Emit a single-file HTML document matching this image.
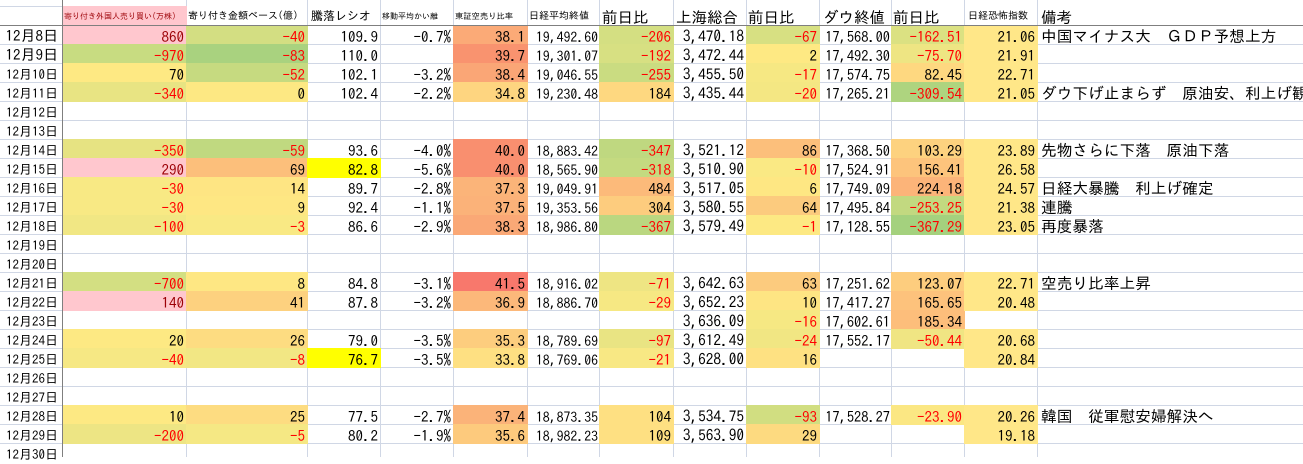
<!DOCTYPE html>
<html><head><meta charset="utf-8">
<style>
html,body{margin:0;padding:0;}
body{width:1303px;height:457px;overflow:hidden;background:#fff;position:relative;font-family:"IPAGothic","Noto Sans CJK JP",monospace;}
.hl{position:absolute;left:0;top:6px;width:1303px;height:451px;background:repeating-linear-gradient(to bottom,#d0d7e5 0,#d0d7e5 1px,transparent 1px,transparent 19px);}
.vl{position:absolute;top:0;width:1px;height:457px;background:#d0d7e5;}
.c{position:absolute;height:20px;line-height:19px;padding:2px 3px 0 0;box-sizing:border-box;text-align:right;white-space:nowrap;font-size:15px;color:#000;}
.n{color:#ff0000;}
.p{background:#ffc7ce;color:#9c0006;}
.h{position:absolute;top:6px;height:20px;line-height:19px;box-sizing:border-box;white-space:nowrap;text-align:left;padding-top:1px;color:#000;background:#fff;}
.hb{padding-top:2px;font-size:15.5px;}
.d{position:absolute;left:0;width:58px;height:19px;line-height:19px;text-align:right;white-space:nowrap;box-sizing:border-box;color:#000;}
.d1{font-size:15px;padding-top:1px;}
.d2{font-size:13px;padding-top:2px;}
.B{left:62px;width:125px;}
.C{left:186px;width:122px;}
.D{left:307px;width:74px;}
.E{left:380px;width:74px;}
.F{left:453px;width:75px;}
.G{left:527px;width:73px;font-size:13.8px;padding-top:3px;padding-right:2px;}
.H{left:599px;width:75px;}
.I{left:673px;width:74px;font-size:15.3px;}
.J{left:746px;width:74px;}
.K{left:819px;width:73px;font-size:14.4px;padding-right:2px;}
.L{left:891px;width:74px;}
.M{left:964px;width:74px;background:#ffe788;}
.N{left:1037px;width:266px;text-align:left;padding-left:4px;padding-right:0;font-size:15.7px;overflow:hidden;}
.r8{top:25px}.r9{top:44px}.r10{top:63px}.r11{top:82px}.r12{top:101px}.r13{top:120px}.r14{top:139px}.r15{top:158px}.r16{top:177px}.r17{top:196px}.r18{top:215px}.r19{top:234px}.r20{top:253px}.r21{top:272px}.r22{top:291px}.r23{top:310px}.r24{top:329px}.r25{top:348px}.r26{top:367px}.r27{top:386px}.r28{top:405px}.r29{top:424px}.r30{top:443px}
.fz{position:absolute;background:#7f7f7f;}
</style></head><body>
<div class="hl"></div>
<div class="vl" style="left:186px"></div>
<div class="vl" style="left:307px"></div>
<div class="vl" style="left:380px"></div>
<div class="vl" style="left:453px"></div>
<div class="vl" style="left:527px"></div>
<div class="vl" style="left:599px"></div>
<div class="vl" style="left:673px"></div>
<div class="vl" style="left:746px"></div>
<div class="vl" style="left:819px"></div>
<div class="vl" style="left:891px"></div>
<div class="vl" style="left:964px"></div>
<div class="vl" style="left:1037px"></div>

<!-- header -->
<div class="h" style="left:62px;width:125px;background:#ffc7ce;color:#9c0006;font-size:8px;padding-left:2px;padding-top:1px">寄り付き外国人売り買い(万株)</div>
<div class="h" style="left:187px;width:120px;font-size:10px;padding-left:1px">寄り付き金額ベース(億)</div>
<div class="h" style="left:308px;width:72px;font-size:12px;padding-left:3px">騰落レシオ</div>
<div class="h" style="left:381px;width:72px;font-size:8px;padding-left:1px">移動平均かい離</div>
<div class="h" style="left:454px;width:73px;font-size:8.3px;padding-left:1px">東証空売り比率</div>
<div class="h" style="left:528px;width:71px;font-size:10px;padding-left:1px">日経平均終値</div>
<div class="h hb" style="left:600px;width:73px;padding-left:2px">前日比</div>
<div class="h hb" style="left:674px;width:72px;padding-left:2px">上海総合</div>
<div class="h hb" style="left:747px;width:72px;padding-left:1px">前日比</div>
<div class="h hb" style="left:820px;width:71px;padding-left:3px">ダウ終値</div>
<div class="h hb" style="left:892px;width:72px;padding-left:1px">前日比</div>
<div class="h" style="left:965px;width:72px;font-size:10px;padding-left:3px">日経恐怖指数</div>
<div class="h hb" style="left:1038px;width:265px;padding-left:3px">備考</div>

<!-- dates -->
<div class="d d1 r8">12月8日</div>
<div class="d d1 r9">12月9日</div>
<div class="d d2 r10">12月10日</div>
<div class="d d2 r11">12月11日</div>
<div class="d d2 r12">12月12日</div>
<div class="d d2 r13">12月13日</div>
<div class="d d2 r14">12月14日</div>
<div class="d d2 r15">12月15日</div>
<div class="d d2 r16">12月16日</div>
<div class="d d2 r17">12月17日</div>
<div class="d d2 r18">12月18日</div>
<div class="d d2 r19">12月19日</div>
<div class="d d2 r20">12月20日</div>
<div class="d d2 r21">12月21日</div>
<div class="d d2 r22">12月22日</div>
<div class="d d2 r23">12月23日</div>
<div class="d d2 r24">12月24日</div>
<div class="d d2 r25">12月25日</div>
<div class="d d2 r26">12月26日</div>
<div class="d d2 r27">12月27日</div>
<div class="d d2 r28">12月28日</div>
<div class="d d2 r29">12月29日</div>
<div class="d d2 r30">12月30日</div>

<!-- B -->
<div class="c B r8 p">860</div>
<div class="c B r9 n" style="background:#c8dc81">-970</div>
<div class="c B r10" style="background:#fee983">70</div>
<div class="c B r11 n" style="background:#e8e483">-340</div>
<div class="c B r14 n" style="background:#e6e382">-350</div>
<div class="c B r15 p">290</div>
<div class="c B r16 n" style="background:#f8e984">-30</div>
<div class="c B r17 n" style="background:#f8e984">-30</div>
<div class="c B r18 n" style="background:#f1e784">-100</div>
<div class="c B r21 n" style="background:#d3df82">-700</div>
<div class="c B r22 p">140</div>
<div class="c B r24" style="background:#fde983">20</div>
<div class="c B r25 n" style="background:#f6e884">-40</div>
<div class="c B r28" style="background:#fde983">10</div>
<div class="c B r29 n" style="background:#ede584">-200</div>

<!-- C -->
<div class="c C r8 n" style="background:#d3de82">-40</div>
<div class="c C r9 n" style="background:#a9d27f">-83</div>
<div class="c C r10 n" style="background:#c6da80">-52</div>
<div class="c C r11" style="background:#fde883">0</div>
<div class="c C r14 n" style="background:#c0d980">-59</div>
<div class="c C r15" style="background:#fcbf7b">69</div>
<div class="c C r16" style="background:#fee583">14</div>
<div class="c C r17" style="background:#fee783">9</div>
<div class="c C r18 n" style="background:#f9e984">-3</div>
<div class="c C r21" style="background:#fee783">8</div>
<div class="c C r22" style="background:#fdd17f">41</div>
<div class="c C r24" style="background:#fddc81">26</div>
<div class="c C r25 n" style="background:#f2e784">-8</div>
<div class="c C r28" style="background:#fddc81">25</div>
<div class="c C r29 n" style="background:#f5e884">-5</div>

<!-- D -->
<div class="c D r8">109.9</div>
<div class="c D r9">110.0</div>
<div class="c D r10">102.1</div>
<div class="c D r11">102.4</div>
<div class="c D r14">93.6</div>
<div class="c D r15" style="background:#ffff00">82.8</div>
<div class="c D r16">89.7</div>
<div class="c D r17">92.4</div>
<div class="c D r18">86.6</div>
<div class="c D r21">84.8</div>
<div class="c D r22">87.8</div>
<div class="c D r24">79.0</div>
<div class="c D r25" style="background:#ffff00">76.7</div>
<div class="c D r28">77.5</div>
<div class="c D r29">80.2</div>

<!-- E -->
<div class="c E r8">-0.7%</div>
<div class="c E r10">-3.2%</div>
<div class="c E r11">-2.2%</div>
<div class="c E r14">-4.0%</div>
<div class="c E r15">-5.6%</div>
<div class="c E r16">-2.8%</div>
<div class="c E r17">-1.1%</div>
<div class="c E r18">-2.9%</div>
<div class="c E r21">-3.1%</div>
<div class="c E r22">-3.2%</div>
<div class="c E r24">-3.5%</div>
<div class="c E r25">-3.5%</div>
<div class="c E r28">-2.7%</div>
<div class="c E r29">-1.9%</div>

<!-- F -->
<div class="c F r8" style="background:#fbaa77">38.1</div>
<div class="c F r9" style="background:#f9936f">39.7</div>
<div class="c F r10" style="background:#faa676">38.4</div>
<div class="c F r11" style="background:#fed580">34.8</div>
<div class="c F r14" style="background:#f98f6f">40.0</div>
<div class="c F r15" style="background:#f98f6f">40.0</div>
<div class="c F r16" style="background:#fbb479">37.3</div>
<div class="c F r17" style="background:#fbb279">37.5</div>
<div class="c F r18" style="background:#faa876">38.3</div>
<div class="c F r21" style="background:#f8786c">41.5</div>
<div class="c F r22" style="background:#fcb87a">36.9</div>
<div class="c F r24" style="background:#fdcd7e">35.3</div>
<div class="c F r25" style="background:#fee082">33.8</div>
<div class="c F r28" style="background:#fbb379">37.4</div>
<div class="c F r29" style="background:#fdca7d">35.6</div>

<!-- G -->
<div class="c G r8">19,492.60</div>
<div class="c G r9">19,301.07</div>
<div class="c G r10">19,046.55</div>
<div class="c G r11">19,230.48</div>
<div class="c G r14">18,883.42</div>
<div class="c G r15">18,565.90</div>
<div class="c G r16">19,049.91</div>
<div class="c G r17">19,353.56</div>
<div class="c G r18">18,986.80</div>
<div class="c G r21">18,916.02</div>
<div class="c G r22">18,886.70</div>
<div class="c G r24">18,789.69</div>
<div class="c G r25">18,769.06</div>
<div class="c G r28">18,873.35</div>
<div class="c G r29">18,982.23</div>

<!-- H -->
<div class="c H r8 n" style="background:#d4df82">-206</div>
<div class="c H r9 n" style="background:#d7e082">-192</div>
<div class="c H r10 n" style="background:#cadc81">-255</div>
<div class="c H r11" style="background:#fed880">184</div>
<div class="c H r14 n" style="background:#bfd880">-347</div>
<div class="c H r15 n" style="background:#c4da80">-318</div>
<div class="c H r16" style="background:#fcba7a">484</div>
<div class="c H r17" style="background:#fdcc7e">304</div>
<div class="c H r18 n" style="background:#bad780">-367</div>
<div class="c H r21 n" style="background:#eee583">-71</div>
<div class="c H r22 n" style="background:#f6e883">-29</div>
<div class="c H r24 n" style="background:#e9e483">-97</div>
<div class="c H r25 n" style="background:#f8e884">-21</div>
<div class="c H r28" style="background:#fee082">104</div>
<div class="c H r29" style="background:#fee082">109</div>

<!-- I -->
<div class="c I r8">3,470.18</div>
<div class="c I r9">3,472.44</div>
<div class="c I r10">3,455.50</div>
<div class="c I r11">3,435.44</div>
<div class="c I r14">3,521.12</div>
<div class="c I r15">3,510.90</div>
<div class="c I r16">3,517.05</div>
<div class="c I r17">3,580.55</div>
<div class="c I r18">3,579.49</div>
<div class="c I r21">3,642.63</div>
<div class="c I r22">3,652.23</div>
<div class="c I r23">3,636.09</div>
<div class="c I r24">3,612.49</div>
<div class="c I r25">3,628.00</div>
<div class="c I r28">3,534.75</div>
<div class="c I r29">3,563.90</div>

<!-- J -->
<div class="c J r8 n" style="background:#d7e082">-67</div>
<div class="c J r9" style="background:#fee983">2</div>
<div class="c J r10 n" style="background:#f6e883">-17</div>
<div class="c J r11 n" style="background:#f4e783">-20</div>
<div class="c J r14" style="background:#fcbf7b">86</div>
<div class="c J r15 n" style="background:#fae984">-10</div>
<div class="c J r16" style="background:#fee783">6</div>
<div class="c J r17" style="background:#fccb7e">64</div>
<div class="c J r18 n" style="background:#fde983">-1</div>
<div class="c J r21" style="background:#fccb7e">63</div>
<div class="c J r22" style="background:#fee583">10</div>
<div class="c J r23 n" style="background:#f6e883">-16</div>
<div class="c J r24 n" style="background:#f1e683">-24</div>
<div class="c J r25" style="background:#fee182">16</div>
<div class="c J r28 n" style="background:#d1de81">-93</div>
<div class="c J r29" style="background:#fdda80">29</div>

<!-- K -->
<div class="c K r8">17,568.00</div>
<div class="c K r9">17,492.30</div>
<div class="c K r10">17,574.75</div>
<div class="c K r11">17,265.21</div>
<div class="c K r14">17,368.50</div>
<div class="c K r15">17,524.91</div>
<div class="c K r16">17,749.09</div>
<div class="c K r17">17,495.84</div>
<div class="c K r18">17,128.55</div>
<div class="c K r21">17,251.62</div>
<div class="c K r22">17,417.27</div>
<div class="c K r23">17,602.61</div>
<div class="c K r24">17,552.17</div>
<div class="c K r28">17,528.27</div>

<!-- L -->
<div class="c L r8 n" style="background:#dbe182">-162.51</div>
<div class="c L r9 n" style="background:#eee583">-75.70</div>
<div class="c L r10" style="background:#fed880">82.45</div>
<div class="c L r11 n" style="background:#aed47f">-309.54</div>
<div class="c L r14" style="background:#fdd27f">103.29</div>
<div class="c L r15" style="background:#fdc47c">156.41</div>
<div class="c L r16" style="background:#fcb479">224.18</div>
<div class="c L r17 n" style="background:#c2d980">-253.25</div>
<div class="c L r18 n" style="background:#a4d17e">-367.29</div>
<div class="c L r21" style="background:#fdcd7e">123.07</div>
<div class="c L r22" style="background:#fdc27c">165.65</div>
<div class="c L r23" style="background:#fdbe7b">185.34</div>
<div class="c L r24 n" style="background:#f0e583">-50.44</div>
<div class="c L r28 n" style="background:#fbe783">-23.90</div>

<!-- M -->
<div class="c M r8">21.06</div>
<div class="c M r9">21.91</div>
<div class="c M r10">22.71</div>
<div class="c M r11">21.05</div>
<div class="c M r14">23.89</div>
<div class="c M r15">26.58</div>
<div class="c M r16">24.57</div>
<div class="c M r17">21.38</div>
<div class="c M r18">23.05</div>
<div class="c M r21">22.71</div>
<div class="c M r22">20.48</div>
<div class="c M r24">20.68</div>
<div class="c M r25">20.84</div>
<div class="c M r28">20.26</div>
<div class="c M r29">19.18</div>

<!-- N -->
<div class="c N r8">中国マイナス大　ＧＤＰ予想上方</div>
<div class="c N r11">ダウ下げ止まらず　原油安、利上げ観測</div>
<div class="c N r14">先物さらに下落　原油下落</div>
<div class="c N r16">日経大暴騰　利上げ確定</div>
<div class="c N r17">連騰</div>
<div class="c N r18">再度暴落</div>
<div class="c N r21">空売り比率上昇</div>
<div class="c N r28">韓国　従軍慰安婦解決へ</div>

<!-- freeze pane lines -->
<div class="fz" style="left:62px;top:0;width:1px;height:457px"></div>
<div class="fz" style="left:0;top:25px;width:1303px;height:1px"></div>
</body></html>
